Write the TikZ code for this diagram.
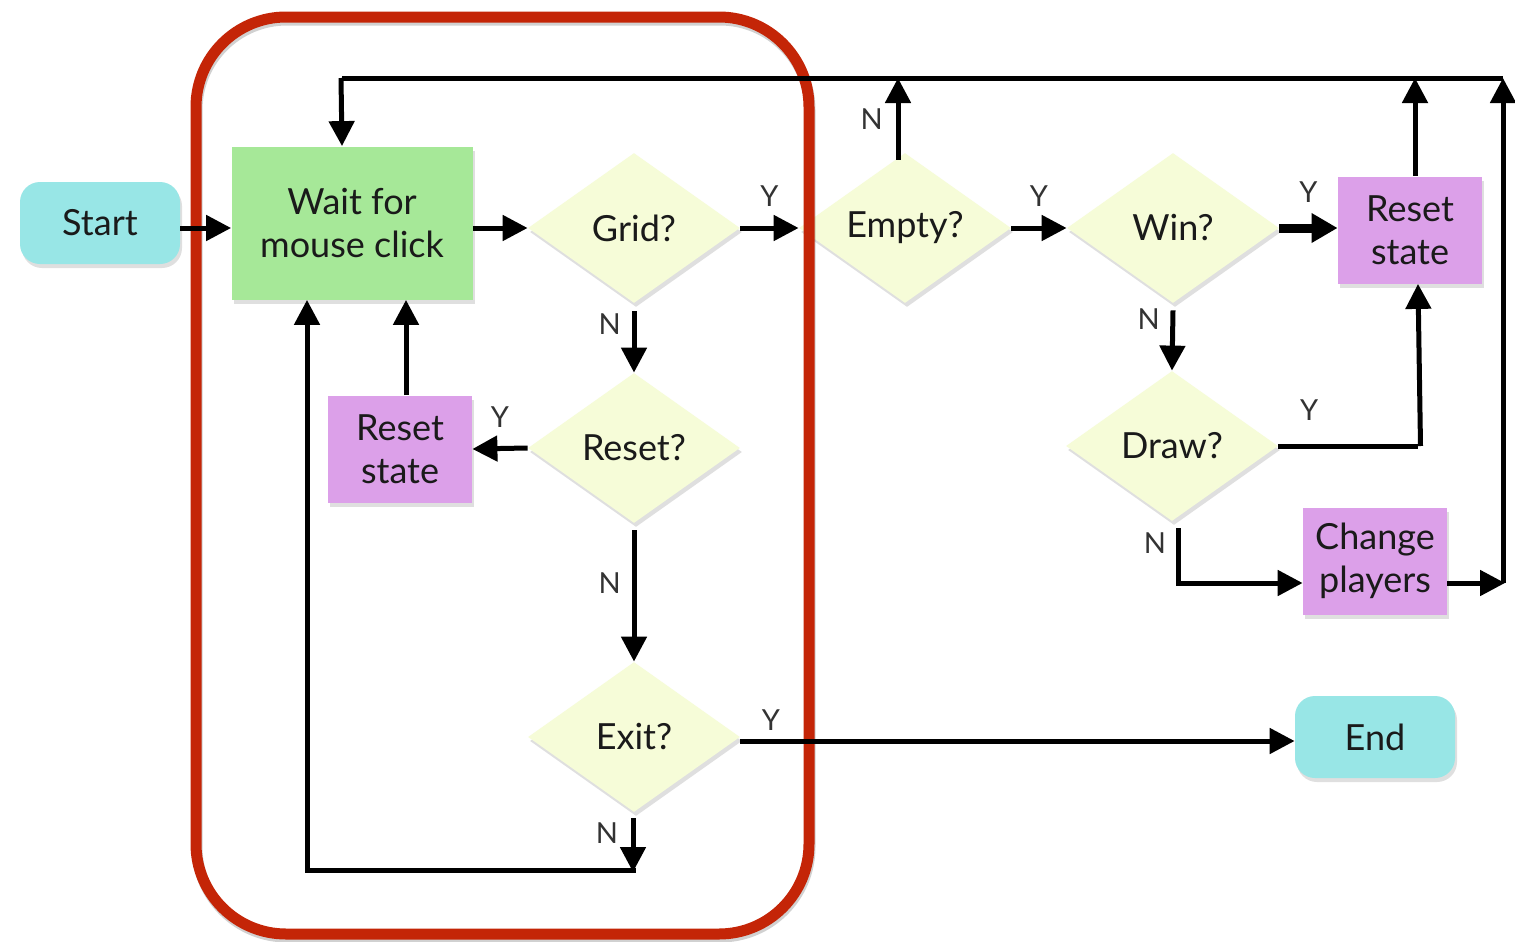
\documentclass[tikz,border=0pt]{standalone}
\usepackage{fontspec}
\setmainfont{Lato}
\usetikzlibrary{shapes.geometric,shadows,arrows.meta}
\definecolor{termc}{HTML}{98E6E6}
\definecolor{procg}{HTML}{A6E898}
\definecolor{decc}{HTML}{F6FCD8}
\definecolor{purp}{HTML}{DCA0E9}
\definecolor{redc}{HTML}{C42507}
\definecolor{txt}{HTML}{1A1A1A}
\begin{document}
\begin{tikzpicture}[x=0.5pt,y=-0.5pt,
  every node/.style={font=\fontsize{18}{21.5}\selectfont, text=txt},
  shad/.style={drop shadow={opacity=0.25,shadow xshift=1pt,shadow yshift=-2pt}},
  term/.style={rectangle, rounded corners=10pt, fill=termc, minimum width=80pt, minimum height=41pt, shad, align=center, inner sep=0pt},
  procbox/.style={rectangle, fill=purp, minimum width=72pt, minimum height=53.5pt, shad, align=center, inner sep=0pt},
  dec/.style={diamond, fill=decc, aspect=1.41, minimum width=106pt, minimum height=75pt, inner sep=0pt, shad},
  line/.style={line width=2.5pt, line join=miter},
  conn/.style={line, -{Triangle[length=12.5pt,width=12.5pt]}},
  thick conn/.style={line width=4.5pt, -{Triangle[length=13pt,width=14pt]}},
  lab/.style={font=\fontsize{14.5}{15}\selectfont, text=black!80},
  frame/.style={line width=5.5pt, rounded corners=45pt}
]
\useasboundingbox (0,0) rectangle (1515,942);
\fill[white] (0,0) rectangle (1515,942);

% nodes
\node[term] (start) at (100,223) {Start};
\node[rectangle, fill=procg, minimum width=120.5pt, minimum height=76.5pt, shad, align=center, inner sep=0pt] (wait) at (352,223) {Wait for\\mouse click};
\node[dec] (grid) at (634,228) {Grid?};
\node[dec] (resetq) at (634,448) {Reset?};
\node[dec] (exit) at (634,737) {Exit?};
\node[procbox] (reset1) at (400,449) {Reset\\state};
\node[dec] (empty) at (905,228) {Empty?};
\node[dec] (win) at (1173,228) {Win?};
\node[dec] (draw) at (1172,446) {Draw?};
\node[procbox] (reset2) at (1410,230) {Reset\\state};
\node[procbox] (change) at (1375,561) {Change\\players};
\node[term] (end) at (1375,737) {End};

% red frame with soft shadow
\draw[frame, draw=black, opacity=0.18] (197,20) rectangle (810,937);
\draw[frame, draw=redc] (196,17) rectangle (809,934);

% helper coordinates
\coordinate (tl) at (342,78);
\coordinate (tr) at (1503,78);
\coordinate (rb) at (1503,583);
\coordinate (dn) at (1178,583);
\coordinate (lb) at (307,870);
\coordinate (eb) at (633,870);

% connectors
\draw[conn] (start.east |- grid.west) -- (wait.west |- grid.west);
\draw[conn] (wait.east |- grid.west) -- (grid.west);
\draw[conn] (grid.east) -- (empty.west) node[lab, midway, above=6pt] {Y};
\draw[conn] (empty.east) -- (win.west) node[lab, midway, above=6pt] {Y};
\draw[thick conn] (win.east) -- (reset2.west |- win.east) node[lab, midway, above=7pt] {Y};

\draw[line] (tr) -- (tl);
\draw[conn] ([xshift=-0.5pt]tl) -- (tl |- wait.north);
\draw[conn] ([xshift=-3.5pt,yshift=-3.5pt]empty.north) -- ([xshift=-3.5pt]empty.north |- tl) node[lab, pos=0.5, left=3pt] {N};
\draw[conn] ([xshift=2.5pt]reset2.north) -- ([xshift=2.5pt]reset2.north |- tl);
\draw[conn] (rb) -- (tr);
\draw[conn] (change.east |- rb) -- ([xshift=1pt]rb);

\draw[conn] ([yshift=-3.5pt]win.south) -- (draw.north) node[lab, pos=0.15, left=2pt] {N};
\draw[line] (draw.east) -- (draw.east -| 1418,0) node[lab, pos=0.22, above=8pt] {Y};
\draw[conn] ([xshift=1.25pt]draw.east -| 1418,0) -- ([xshift=4pt]reset2.south);
\draw[conn] ([yshift=-3.5pt]draw.south -| dn) -- (dn) -- (change.west |- dn);
\node[lab] at (1155,543) {N};

\draw[conn] ([yshift=-4pt]grid.south) -- (resetq.north) node[lab, pos=0.2, left=2pt] {N};
\draw[conn] (resetq.west) -- (reset1.east) node[lab, midway, above=6pt] {Y};
\draw[conn] ([xshift=3pt]reset1.north) -- ([xshift=3pt]reset1.north |- wait.south);
\draw[conn] ([yshift=-3.5pt]resetq.south) -- (exit.north) node[lab, pos=0.4, left=2pt] {N};
\draw[conn] (exit.east |- 0,741) -- (end.west |- 0,741);
\node[lab] at (771,720) {Y};
\draw[conn] ([xshift=-0.5pt,yshift=-3pt]exit.south) -- ([yshift=-1pt]eb);
\node[lab] at (607,833) {N};
\draw[conn] ([xshift=1.25pt]eb) -- (lb) -- (lb |- wait.south);
\end{tikzpicture}
\end{document}
